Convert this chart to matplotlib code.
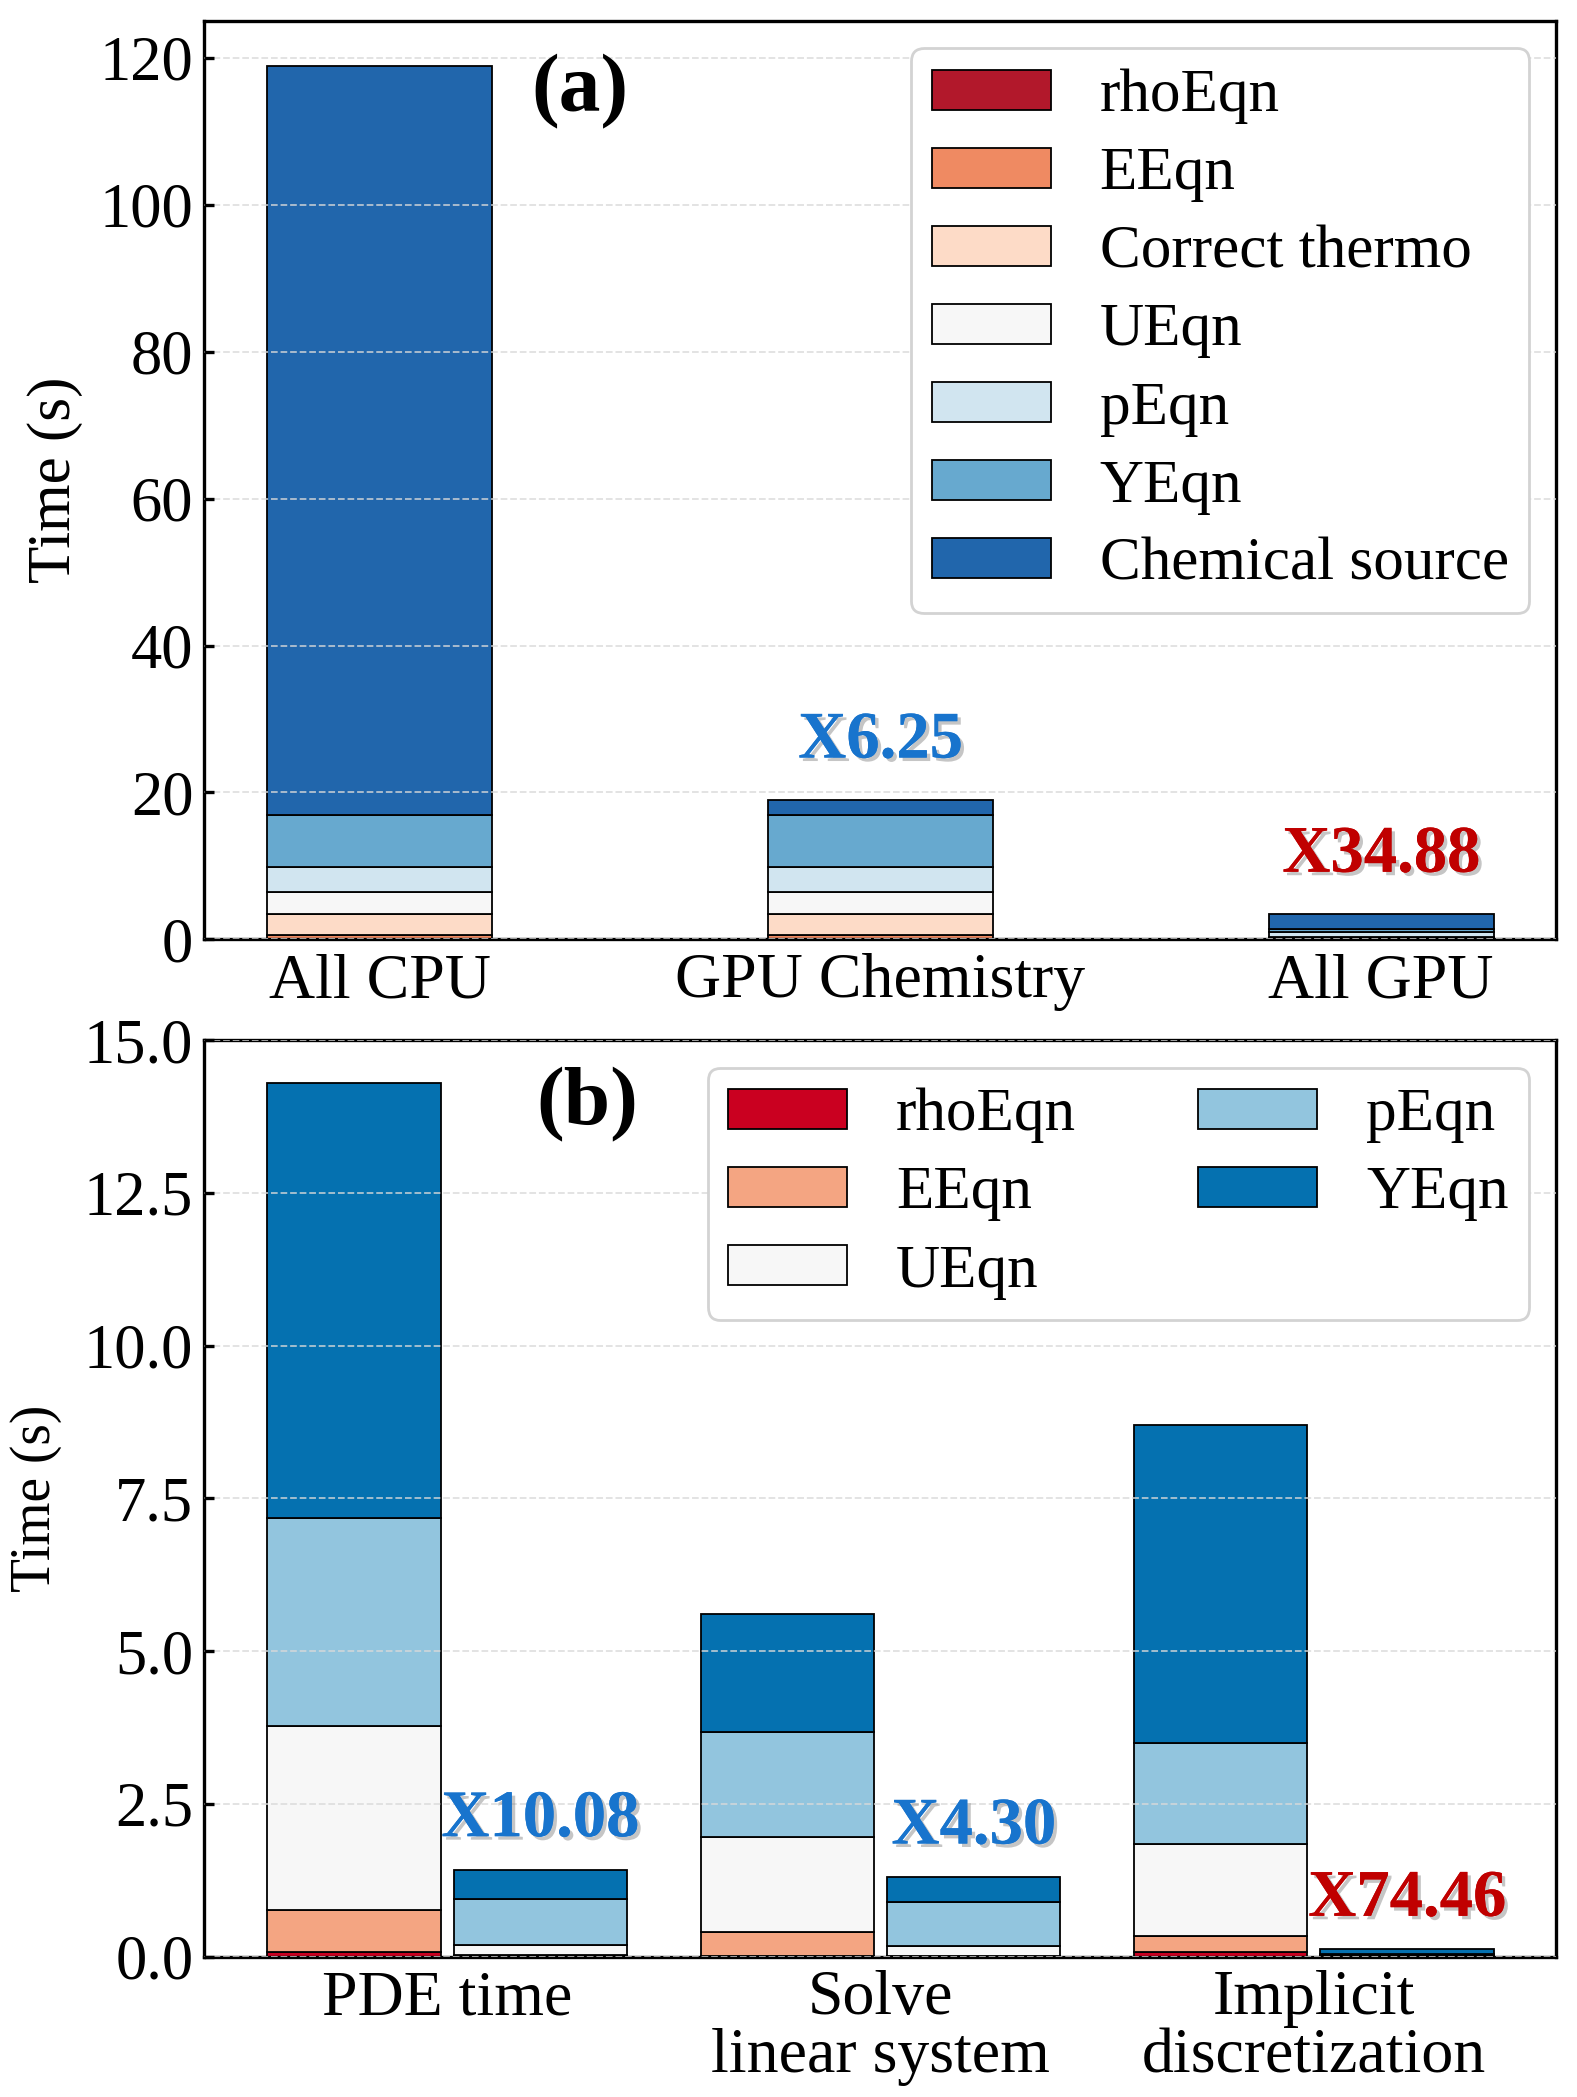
import numpy as np
import matplotlib
matplotlib.use("Agg")
import matplotlib.pyplot as plt
import matplotlib.patheffects as pe

plt.rcParams['font.family'] = ['Liberation Serif', 'DejaVu Serif']

# ---- panel (a) data ----
cases_a = ['All CPU', 'GPU Chemistry', 'All GPU']
parts_a = ['rhoEqn', 'EEqn', 'Correct thermo', 'UEqn', 'pEqn', 'YEqn', 'Chemical source']
rho_a = [0.05, 0.05, 0.02]
eeqn_a = [0.60, 0.60, 0.08]
thermo_a = [2.75, 2.75, 0.05]
ueqn_a = [3.00, 3.00, 0.15]
peqn_a = [3.40, 3.40, 0.75]
yeqn_a = [7.20, 7.20, 0.31]
chem_a = [101.9, 1.95, 2.05]
colors_a = ['#b2182b', '#ef8a62', '#fddbc7', '#f7f7f7', '#d1e5f0', '#67a9cf', '#2166ac']
speedup_a = ['', 'X6.25', 'X34.88']
speedup_col_a = ['none', '#1874cd', '#c00000']

# ---- panel (b) data ----
groups_b = ['PDE time', 'Solve\nlinear system', 'Implicit\ndiscretization']
parts_b = ['rhoEqn', 'EEqn', 'UEqn', 'pEqn', 'YEqn']
cpu_rho = [0.08, 0.01, 0.07]
cpu_eeqn = [0.68, 0.39, 0.27]
cpu_ueqn = [3.02, 1.55, 1.50]
cpu_peqn = [3.39, 1.72, 1.66]
cpu_yeqn = [7.13, 1.93, 5.20]
gpu_rho = [0.010, 0.005, 0.003]
gpu_eeqn = [0.020, 0.010, 0.004]
gpu_ueqn = [0.160, 0.165, 0.010]
gpu_peqn = [0.750, 0.710, 0.030]
gpu_yeqn = [0.480, 0.410, 0.070]
colors_b = ['#ca0020', '#f4a582', '#f7f7f7', '#92c5de', '#0571b0']
speedup_b = ['X10.08', 'X4.30', 'X74.46']
speedup_col_b = ['#1874cd', '#1874cd', '#c00000']

fig = plt.figure(figsize=(15.77, 20.97), dpi=100)
ax1 = fig.add_axes([0.1296, 0.552, 0.8574, 0.438])
ax2 = fig.add_axes([0.1296, 0.067, 0.8574, 0.437])

shadow = [pe.withSimplePatchShadow(offset=(2.5, -2.5), shadow_rgbFace='gray', alpha=0.45), pe.Normal()]

legend_kw = dict(loc='upper right', fontsize=44, handlelength=1.95, handleheight=0.63, handletextpad=0.8,
                 labelspacing=0.37, borderpad=0.33, borderaxespad=0.45, fancybox=True, framealpha=1)


def style_axis(ax, ylab_size, ylab_pad):
    for s in ax.spines.values():
        s.set_linewidth(2.4)
    ax.tick_params(axis='y', direction='in', length=7, width=2.4, labelsize=45, pad=8)
    ax.tick_params(axis='x', length=0, labelsize=46, pad=10)
    ax.yaxis.grid(True, linestyle='--', color='#d9d9d9', linewidth=1.3, alpha=0.8)
    ax.set_axisbelow(False)
    ax.set_ylabel('Time (s)', fontsize=ylab_size, labelpad=ylab_pad)


# panel (a)
x_a = np.arange(len(cases_a))
stack_a = [rho_a, eeqn_a, thermo_a, ueqn_a, peqn_a, yeqn_a, chem_a]
bottom = np.zeros(len(cases_a))
for vals, name, c in zip(stack_a, parts_a, colors_a):
    ax1.bar(x_a, vals, 0.45, bottom=bottom, color=c, edgecolor='black', linewidth=1.3, label=name, zorder=2)
    bottom += np.array(vals)
for xi, top, txt, c in zip(x_a, bottom, speedup_a, speedup_col_a):
    if txt:
        ax1.text(xi, top + 3.9, txt, ha='center', va='bottom', fontsize=48, fontweight='bold',
                 color=c, path_effects=shadow, zorder=5)
ax1.set_xlim(-0.35, 2.35)
ax1.set_ylim(0, 125)
ax1.set_yticks(np.arange(0, 121, 20))
ax1.set_xticks(x_a)
ax1.set_xticklabels(cases_a)
style_axis(ax1, 44, 12)
ax1.text(0.278, 0.923, '(a)', transform=ax1.transAxes, ha='center', va='center', fontsize=60, fontweight='bold')
leg1 = ax1.legend(**legend_kw)
leg1.get_frame().set_edgecolor('#d3d3d3')
leg1.get_frame().set_linewidth(2)

# panel (b)
x_b = np.arange(len(groups_b))
w = 0.4
off = 0.215
cpu_stack = [cpu_rho, cpu_eeqn, cpu_ueqn, cpu_peqn, cpu_yeqn]
gpu_stack = [gpu_rho, gpu_eeqn, gpu_ueqn, gpu_peqn, gpu_yeqn]
bc = np.zeros(len(groups_b))
bg = np.zeros(len(groups_b))
for cv, gv, name, c in zip(cpu_stack, gpu_stack, parts_b, colors_b):
    ax2.bar(x_b - off, cv, w, bottom=bc, color=c, edgecolor='black', linewidth=1.3, label=name, zorder=2)
    ax2.bar(x_b + off, gv, w, bottom=bg, color=c, edgecolor='black', linewidth=1.3, zorder=2)
    bc += np.array(cv)
    bg += np.array(gv)
for xi, top, txt, c in zip(x_b, bg, speedup_b, speedup_col_b):
    ax2.text(xi + off, top + 0.32, txt, ha='center', va='bottom', fontsize=48, fontweight='bold',
             color=c, path_effects=shadow, zorder=5)
ax2.set_xlim(-0.56, 2.56)
ax2.set_ylim(0, 15)
ax2.set_yticks(np.arange(0, 15.1, 2.5))
ax2.set_yticklabels([f'{v:.1f}' for v in np.arange(0, 15.1, 2.5)])
ax2.set_xticks(x_b)
ax2.set_xticklabels(groups_b, linespacing=1.0)
style_axis(ax2, 40, 16)
ax2.text(0.283, 0.929, '(b)', transform=ax2.transAxes, ha='center', va='center', fontsize=60, fontweight='bold')
leg2 = ax2.legend(ncol=2, columnspacing=2.0, **legend_kw)
leg2.get_frame().set_edgecolor('#d3d3d3')
leg2.get_frame().set_linewidth(2)

fig.savefig('out.png', dpi=100)
